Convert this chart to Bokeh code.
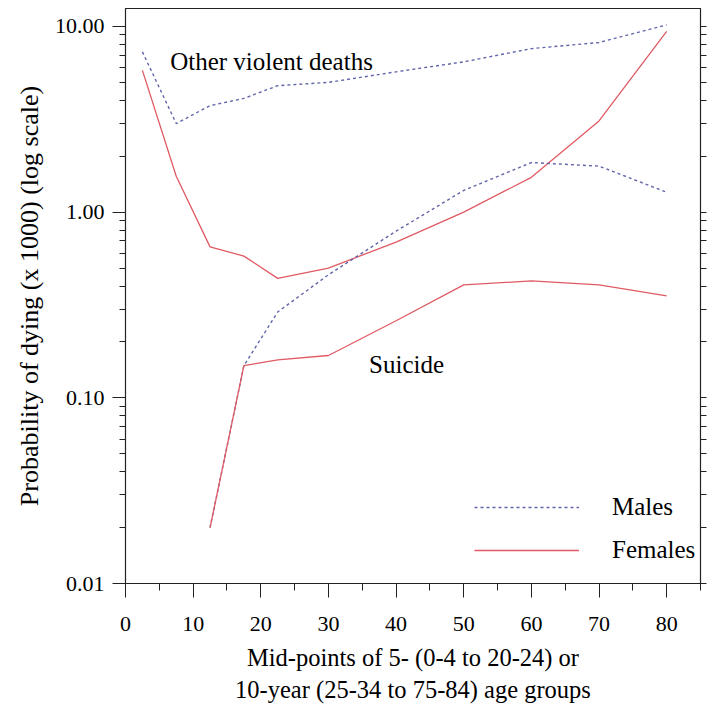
from bokeh.plotting import figure
from bokeh.models import (LogAxis, FixedTicker, PrintfTickFormatter, Label,
                          Legend, LegendItem, Range1d)
from bokeh.embed import file_html
from bokeh.resources import INLINE

# ---- data ----
ages = [2.5, 7.5, 12.5, 17.5, 22.5, 30, 40, 50, 60, 70, 80]
other_males = [7.3, 3.0, 3.75, 4.1, 4.8, 5.0, 5.7, 6.45, 7.6, 8.2, 10.2]
other_females = [5.8, 1.56, 0.65, 0.58, 0.44, 0.50, 0.69, 1.0, 1.54, 3.1, 9.4]
suicide_ages = [12.5, 17.5, 22.5, 30, 40, 50, 60, 70, 80]
suicide_males = [0.020, 0.149, 0.29, 0.46, 0.79, 1.31, 1.85, 1.77, 1.28]
suicide_females = [0.020, 0.149, 0.16, 0.169, 0.26, 0.406, 0.426, 0.406, 0.354]

x_major = [0, 10, 20, 30, 40, 50, 60, 70, 80]
x_minor = [5, 15, 25, 35, 45, 55, 65, 75, 85]
y_major = [0.01, 0.1, 1.0, 10.0]
y_minor = [m * d for d in [0.01, 0.1, 1.0] for m in range(2, 10)] + [20.0]

MALE_COLOR = "#6266a8"
FEMALE_COLOR = "#e05a64"
FONT = "Liberation Serif"

p = figure(width=708, height=705, output_backend="svg", toolbar_location=None,
           y_axis_type="log", x_range=Range1d(0, 85), y_range=Range1d(0.01, 12.5),
           min_border_left=125, min_border_right=8, min_border_top=8,
           min_border_bottom=120)
p.grid.visible = False
p.outline_line_color = "#222222"
p.outline_line_width = 1.2
p.background_fill_color = "white"
p.border_fill_color = "white"

# x axis
xa = p.xaxis[0]
xa.ticker = FixedTicker(ticks=x_major, minor_ticks=x_minor)
xa.major_tick_out = 14
xa.major_tick_in = 0
xa.minor_tick_out = 7
xa.minor_tick_in = 0
xa.major_label_standoff = 19
xa.major_label_text_font = FONT
xa.major_label_text_font_size = "22px"
xa.major_label_text_color = "black"
xa.axis_label = "Mid-points of 5- (0-4 to 20-24) or\n10-year (25-34 to 75-84) age groups"
xa.axis_label_text_font = FONT
xa.axis_label_text_font_size = "24.5px"
xa.axis_label_text_font_style = "normal"
xa.axis_label_text_color = "black"
xa.axis_label_standoff = 10
xa.axis_line_color = "#222222"
xa.major_tick_line_color = "#222222"
xa.minor_tick_line_color = "#222222"

# y axis (left)
ya = p.yaxis[0]
ya.ticker = FixedTicker(ticks=y_major, minor_ticks=y_minor)
ya.formatter = PrintfTickFormatter(format="%.2f")
ya.major_tick_out = 13
ya.major_tick_in = 0
ya.minor_tick_out = 6
ya.minor_tick_in = 0
ya.major_label_standoff = 8
ya.major_label_text_font = FONT
ya.major_label_text_font_size = "22px"
ya.major_label_text_color = "black"
ya.axis_label = "Probability of dying (x 1000) (log scale)"
ya.axis_label_text_font = FONT
ya.axis_label_text_font_size = "26px"
ya.axis_label_text_font_style = "normal"
ya.axis_label_text_color = "black"
ya.axis_label_standoff = 8
ya.axis_line_color = "#222222"
ya.major_tick_line_color = "#222222"
ya.minor_tick_line_color = "#222222"

# right axis: ticks only
ra = LogAxis(ticker=FixedTicker(ticks=y_major, minor_ticks=y_minor))
ra.major_tick_out = 6
ra.major_tick_in = 0
ra.minor_tick_out = 6
ra.minor_tick_in = 0
ra.major_label_text_font_size = "1px"
ra.major_label_text_color = None
ra.major_label_standoff = 0
ra.axis_line_color = "#222222"
ra.major_tick_line_color = "#222222"
ra.minor_tick_line_color = "#222222"
p.add_layout(ra, "right")

# lines
r_om = p.line(ages, other_males, line_color=MALE_COLOR, line_width=1.4, line_dash="3 3")
r_of = p.line(ages, other_females, line_color=FEMALE_COLOR, line_width=1.3)
p.line(suicide_ages, suicide_males, line_color=MALE_COLOR, line_width=1.4, line_dash="3 3")
p.line(suicide_ages, suicide_females, line_color=FEMALE_COLOR, line_width=1.3)

# in-plot labels
p.add_layout(Label(x=6.6, y=6.46, text="Other violent deaths", text_font=FONT,
                   text_font_size="25px", text_color="black",
                   text_baseline="middle", text_align="left"))
p.add_layout(Label(x=36.0, y=0.151, text="Suicide", text_font=FONT,
                   text_font_size="25px", text_color="black",
                   text_baseline="middle", text_align="left"))

legend = Legend(items=[LegendItem(label="Males", renderers=[r_om]),
                       LegendItem(label="Females", renderers=[r_of])],
                location=(349, 18), glyph_width=105, glyph_height=30,
                label_standoff=33, spacing=13, padding=0, margin=0,
                border_line_color=None, background_fill_alpha=0,
                label_text_font=FONT, label_text_font_size="25px",
                label_text_color="black", label_height=30)
p.add_layout(legend)

open("out.html", "w").write(file_html(p, INLINE))
